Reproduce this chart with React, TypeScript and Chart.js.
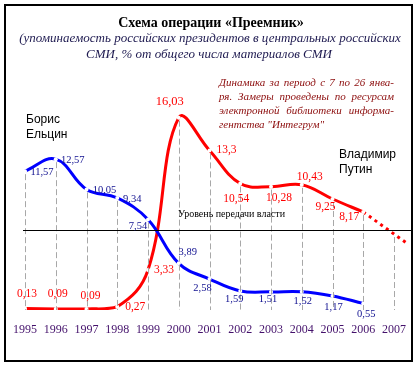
import React, { useEffect, useRef } from "react";
import { Chart, registerables } from "chart.js";

Chart.register(...registerables);

const YEARS = [1995, 1996, 1997, 1998, 1999, 2000, 2001, 2002, 2003, 2004, 2005, 2006];
const TICK_YEARS = [1995, 1996, 1997, 1998, 1999, 2000, 2001, 2002, 2003, 2004, 2005, 2006, 2007];
const YELTSIN = [11.57, 12.57, 10.05, 9.34, 7.54, 3.89, 2.58, 1.59, 1.51, 1.52, 1.17, 0.55];
const PUTIN = [0.13, 0.09, 0.09, 0.27, 3.33, 16.03, 13.3, 10.54, 10.28, 10.43, 9.25, 8.17];
const PUTIN_TREND_X = [2006, 2007, 2007.4];
const PUTIN_TREND = [8.17, 6.33, 5.6];
const TRANSFER_LEVEL = 6.67;

const TITLE = "Схема операции «Преемник»";
const SUBTITLE = [
  "(упоминаемость российских президентов в центральных российских",
  "СМИ, % от общего числа материалов СМИ",
];
const NOTE = [
  "Динамика за период с 7 по 26 янва-",
  "ря. Замеры проведены по ресурсам",
  "электронной библиотеки информа-",
  "гентства \"Интегрум\"",
];
const YELTSIN_NAME = ["Борис", "Ельцин"];
const PUTIN_NAME = ["Владимир", "Путин"];
const TRANSFER_LABEL = "Уровень передачи власти";

// label offsets (px) relative to each point
const YELTSIN_LABEL_OFFSETS = [
  [17, 1], [17, 1], [18, 1], [15, 1], [-10, 7], [9, -11],
  [-7, 9], [-6, 8], [-3, 7], [1, 9], [1, 11], [3, 11],
];
const PUTIN_LABEL_OFFSETS = [
  [2, -14], [2, -15], [4, -13], [18, 0], [16, 0], [-9, -16],
  [17, 0], [-4, 15], [8, 11], [8, -8], [-7, 8], [-14, 5],
];

const fmt = (v: number) => String(v).replace(".", ",");

const decorPlugin = {
  id: "decor",
  afterDatasetsDraw(chart: any) {
    const ctx = chart.ctx as CanvasRenderingContext2D;
    const xs = chart.scales.x;
    const ys = chart.scales.y;
    ctx.save();
    // drop lines
    ctx.strokeStyle = "#a8a8a8";
    ctx.lineWidth = 1;
    ctx.setLineDash([6, 3]);
    const y0 = ys.getPixelForValue(0);
    TICK_YEARS.forEach((yr) => {
      let top: number;
      const i = YEARS.indexOf(yr);
      if (i >= 0) top = Math.max(YELTSIN[i], PUTIN[i]);
      else top = PUTIN_TREND[PUTIN_TREND_X.indexOf(yr)];
      const x = Math.round(xs.getPixelForValue(yr)) + 0.5;
      ctx.beginPath();
      ctx.moveTo(x, ys.getPixelForValue(top) + 3);
      ctx.lineTo(x, y0);
      ctx.stroke();
    });
    ctx.setLineDash([]);
    // transfer level line
    const ty = Math.round(ys.getPixelForValue(TRANSFER_LEVEL)) + 0.5;
    ctx.strokeStyle = "#000";
    ctx.lineWidth = 1;
    ctx.beginPath();
    ctx.moveTo(23, ty);
    ctx.lineTo(412, ty);
    ctx.stroke();
    ctx.restore();
  },
  afterDraw(chart: any) {
    const ctx = chart.ctx as CanvasRenderingContext2D;
    const xs = chart.scales.x;
    const ys = chart.scales.y;
    ctx.save();
    // frame
    ctx.strokeStyle = "#000";
    ctx.lineWidth = 2;
    ctx.strokeRect(5, 5, 407, 356);

    ctx.textBaseline = "middle";
    // title
    ctx.textAlign = "center";
    ctx.fillStyle = "#000";
    ctx.font = "bold 14px 'Liberation Serif'";
    ctx.fillText(TITLE, 211, 23);
    ctx.fillStyle = "#1e1a50";
    ctx.font = "italic 13px 'Liberation Serif'";
    ctx.fillText(SUBTITLE[0], 210, 39);
    ctx.fillText(SUBTITLE[1], 209, 55);

    // note (justified)
    ctx.fillStyle = "#8b0a0a";
    ctx.font = "italic 11px 'Liberation Serif'";
    ctx.textAlign = "left";
    const nx0 = 219, nx1 = 394;
    NOTE.forEach((line, li) => {
      const y = 83 + li * 14;
      const words = line.split(" ");
      if (li === NOTE.length - 1 || words.length < 2) {
        ctx.fillText(line, nx0, y);
        return;
      }
      const widths = words.map((w) => ctx.measureText(w).width);
      const total = widths.reduce((a, b) => a + b, 0);
      const gap = (nx1 - nx0 - total) / (words.length - 1);
      let x = nx0;
      words.forEach((w, wi) => {
        ctx.fillText(w, x, y);
        x += widths[wi] + gap;
      });
    });

    // names
    ctx.fillStyle = "#000";
    ctx.font = "12px 'Liberation Sans'";
    ctx.fillText(YELTSIN_NAME[0], 26, 120);
    ctx.fillText(YELTSIN_NAME[1], 26, 135);
    ctx.fillText(PUTIN_NAME[0], 339, 155);
    ctx.fillText(PUTIN_NAME[1], 339, 170);

    // transfer label
    ctx.font = "10px 'Liberation Serif'";
    ctx.fillText(TRANSFER_LABEL, 178, 214);

    // year labels
    ctx.textAlign = "center";
    ctx.fillStyle = "#44116b";
    ctx.font = "12px 'Liberation Serif'";
    TICK_YEARS.forEach((yr) => {
      ctx.fillText(String(yr), xs.getPixelForValue(yr), 330);
    });

    // data labels
    ctx.fillStyle = "#101090";
    ctx.font = "10.5px 'Liberation Serif'";
    YEARS.forEach((yr, i) => {
      const [dx, dy] = YELTSIN_LABEL_OFFSETS[i];
      ctx.fillText(fmt(YELTSIN[i]), xs.getPixelForValue(yr) + dx, ys.getPixelForValue(YELTSIN[i]) + dy);
    });
    ctx.fillStyle = "#ff0000";
    YEARS.forEach((yr, i) => {
      const [dx, dy] = PUTIN_LABEL_OFFSETS[i];
      ctx.font = PUTIN[i] > 16 ? "12.5px 'Liberation Serif'" : "11.5px 'Liberation Serif'";
      ctx.fillText(fmt(PUTIN[i]), xs.getPixelForValue(yr) + dx, ys.getPixelForValue(PUTIN[i]) + dy);
    });
    ctx.restore();
  },
};

export default function App() {
  const ref = useRef<HTMLCanvasElement>(null);
  useEffect(() => {
    document.body.style.margin = "0";
    const canvas = ref.current!;
    const chart = new Chart(canvas, {
      type: "line",
      data: {
        datasets: [
          {
            label: "Ельцин",
            data: YEARS.map((x, i) => ({ x, y: YELTSIN[i] })),
            borderColor: "#0000ff",
            borderWidth: 3,
            tension: 0.4,
            pointRadius: 2,
            pointBackgroundColor: "#ffffff",
            pointBorderWidth: 0,
            pointHoverRadius: 0,
          },
          {
            label: "Путин",
            data: YEARS.map((x, i) => ({ x, y: PUTIN[i] })),
            borderColor: "#ff0000",
            borderWidth: 3,
            tension: 0.4,
            pointRadius: 2,
            pointBackgroundColor: "#ffffff",
            pointBorderWidth: 0,
            pointHoverRadius: 0,
          },
          {
            label: "Путин (прогноз)",
            data: PUTIN_TREND_X.map((x, i) => ({ x, y: PUTIN_TREND[i] })),
            borderColor: "#ff0000",
            borderWidth: 3,
            borderDash: [3, 4],
            tension: 0,
            pointRadius: 0,
          },
        ],
      },
      options: {
        animation: false,
        responsive: false,
        events: [],
        layout: { padding: { left: 10, right: 8, top: 70, bottom: 58 } },
        scales: {
          x: { type: "linear", min: 1995 - 15 / 30.75, max: 2007 + 18 / 30.75, display: false },
          y: { min: 0, max: 20, display: false },
        },
        plugins: { legend: { display: false }, tooltip: { enabled: false } },
      },
      plugins: [decorPlugin],
    });
    return () => chart.destroy();
  }, []);
  return <canvas ref={ref} width={420} height={368} style={{ display: "block", width: 420, height: 368 }} />;
}
